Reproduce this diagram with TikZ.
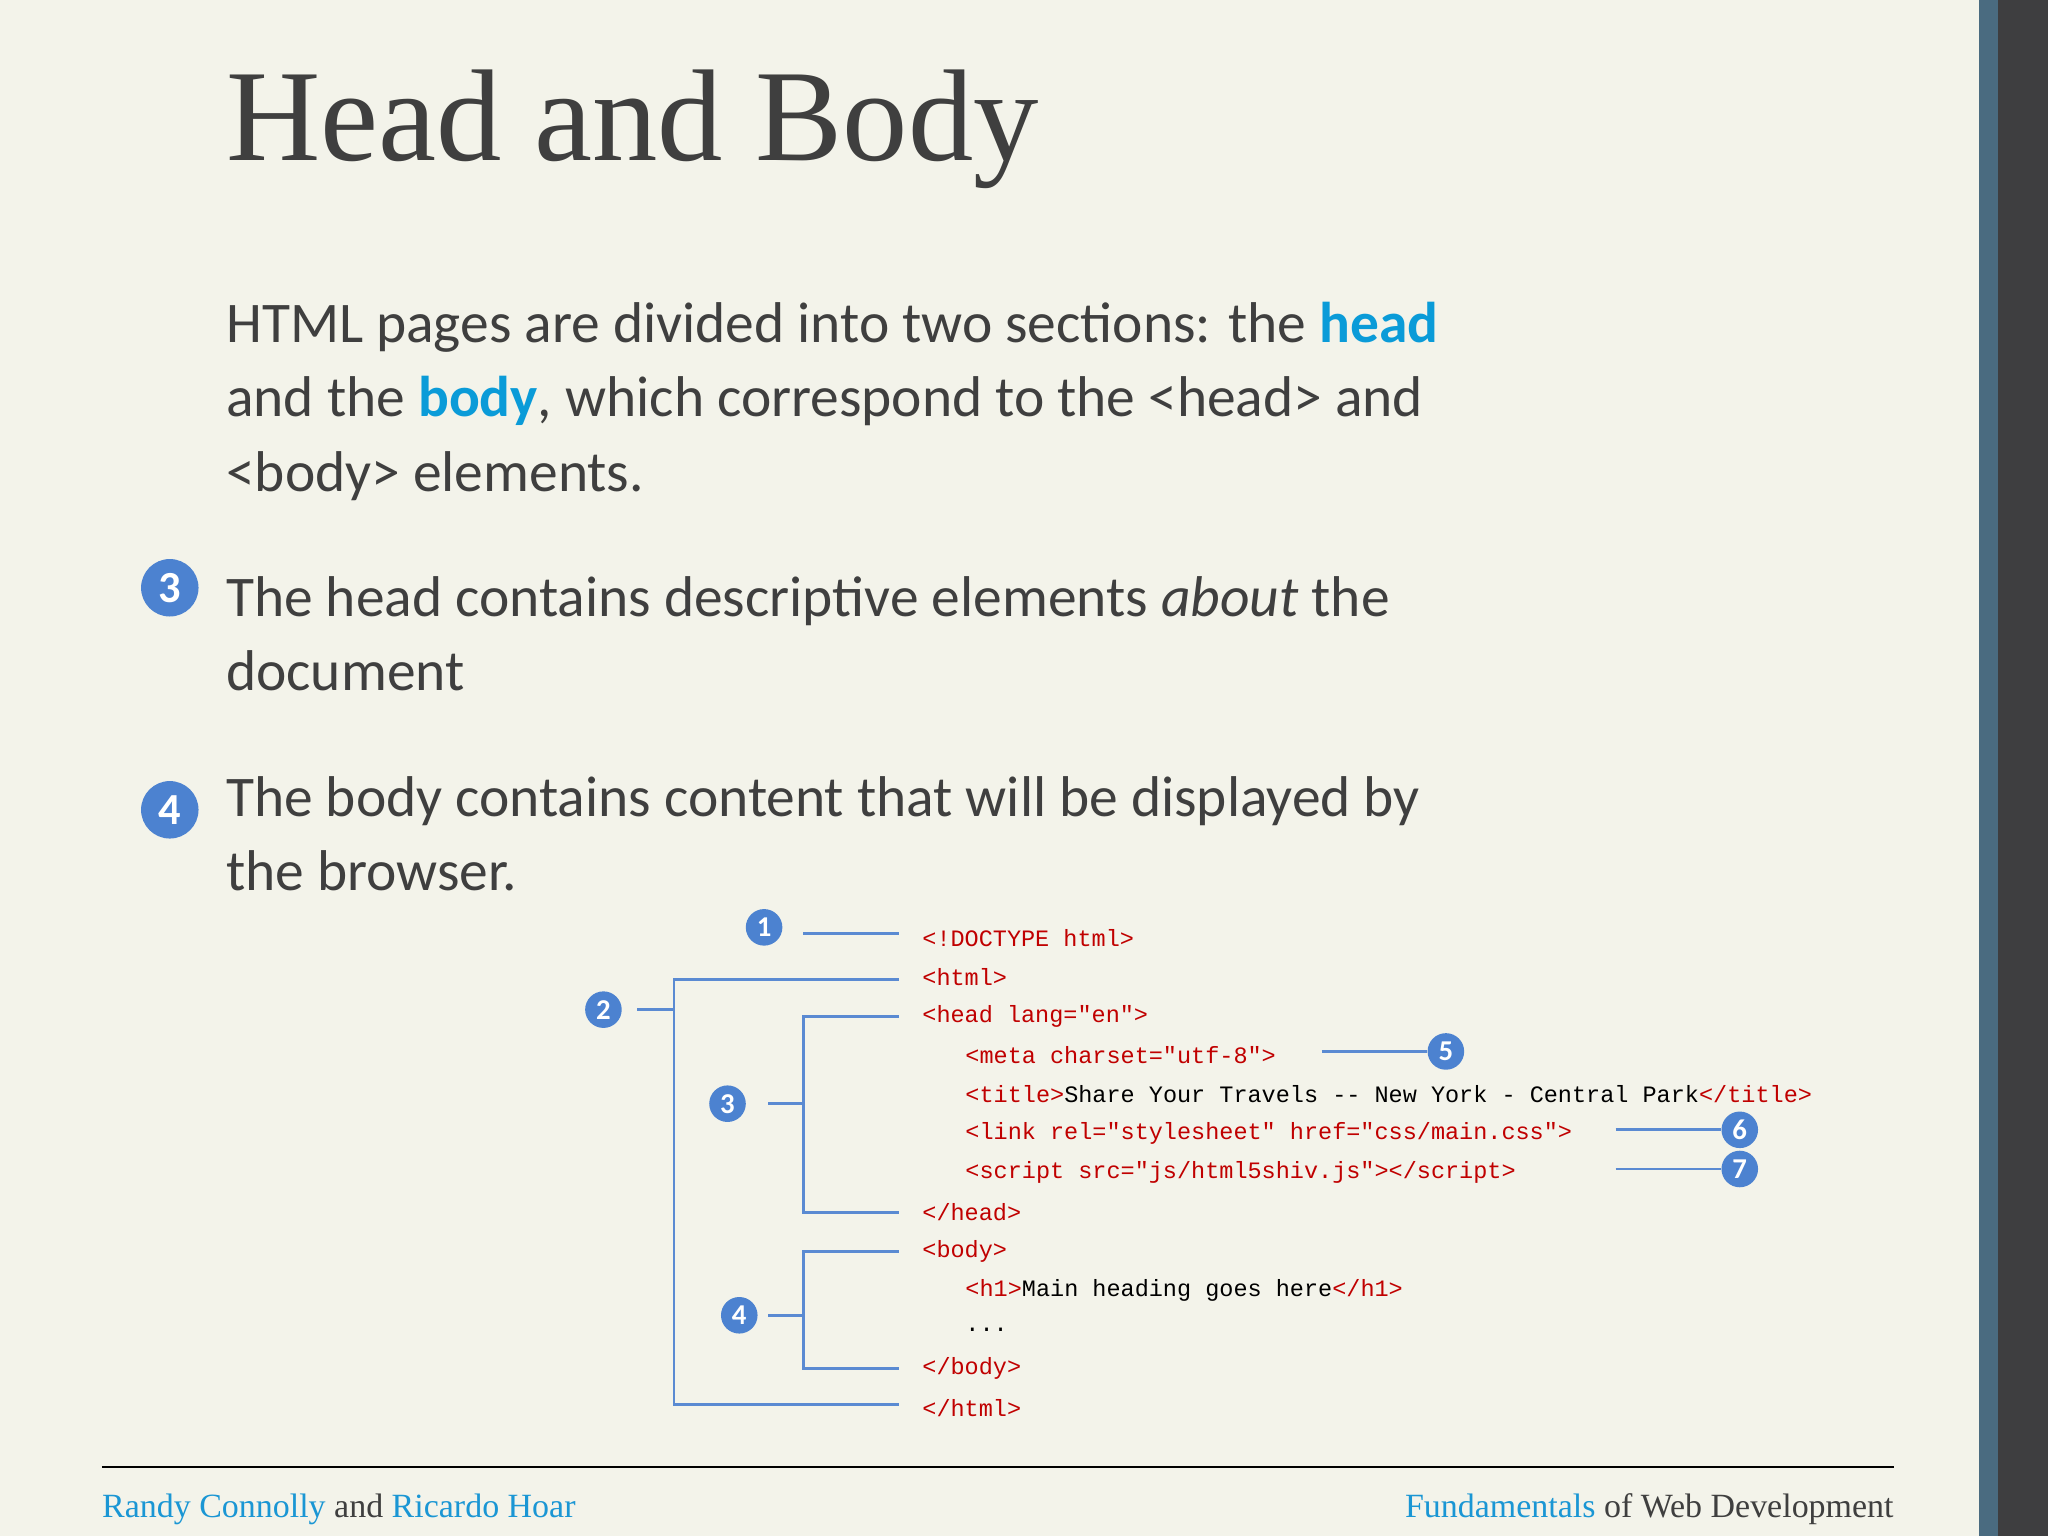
\documentclass[tikz,border=0pt]{standalone}
\usepackage{fontspec}
\setmainfont{Liberation Serif}
\newfontfamily\bodyf{Carlito}
\newfontfamily\codef{Liberation Mono}
\usetikzlibrary{positioning}
\definecolor{bg}{HTML}{F3F3EA}
\definecolor{mk}{HTML}{4C82D0}
\definecolor{ln}{HTML}{5A8AD2}
\definecolor{cr}{HTML}{C00000}
\definecolor{tx}{HTML}{3F3F3F}
\definecolor{ft}{HTML}{1A96D4}
\definecolor{hb}{HTML}{0A9BD8}
\definecolor{barA}{HTML}{4A6B80}
\definecolor{barB}{HTML}{3E3E40}
\begin{document}
\begin{tikzpicture}[x=1pt,y=-1pt,
  bigmk/.style={circle,fill=mk,text=white,inner sep=0pt,minimum size=44pt,font=\bodyf\bfseries\fontsize{34}{34}\selectfont},
  smk/.style={circle,fill=mk,text=white,inner sep=0pt,minimum size=28pt,font=\bodyf\bfseries\fontsize{22}{22}\selectfont},
  body/.style={anchor=base west,inner sep=0pt,text=tx,font=\bodyf\fontsize{44}{44}\selectfont},
  code/.style={anchor=west,inner sep=0pt,font=\codef\fontsize{18}{18}\selectfont,text=cr},
  br/.style={ln,line width=2.2pt}]
\useasboundingbox (0,0) rectangle (1568,1176);
\fill[bg] (0,0) rectangle (1515,1176);
\fill[barA] (1515,0) rectangle (1530,1176);
\fill[barB] (1530,0) rectangle (1568,1176);
\node[anchor=base west,inner sep=0pt,text=tx,font=\fontsize{100}{100}\selectfont] (title) at (173,123) {Head and Body};
\node[body] (p1) at (173,262) {HTML pages are divided into two sections: the \textcolor{hb}{\bfseries head}};
\node[body] (p2) at (173,319) {and the \textcolor{hb}{\bfseries body}, which correspond to the <head> and};
\node[body] (p3) at (173,376) {<body> elements.};
\node[bigmk] (b3) at (130,450) {3};
\node[body] (q1) at (173,472) {The head contains descriptive elements \textit{about} the};
\node[body] (q2) at (173,529) {document};
\node[bigmk] (b4) at (130,620) {4};
\node[body] (r1) at (173,625) {The body contains content that will be displayed by};
\node[body] (r2) at (173,682) {the browser.};
% code
\node[code] (c1) at (706,718) {<!DOCTYPE html>};
\node[code] (c2) at (706,748) {<html>};
\node[code] (c3) at (706,778) {<head lang="en">};
\node[code] (c4) at (739,808) {<meta charset="utf-8">};
\node[code] (c5) at (739,838) {<title>\textcolor{black}{Share Your Travels -- New York - Central Park}</title>};
\node[code] (c6) at (739,868) {<link rel="stylesheet" href="css/main.css">};
\node[code] (c7) at (739,898) {<script src="js/html5shiv.js"></script>};
\node[code] (c8) at (706,928) {</head>};
\node[code] (c9) at (706,958) {<body>};
\node[code] (c10) at (739,988) {<h1>\textcolor{black}{Main heading goes here}</h1>};
\node[code,text=black] (c11) at (739,1018) {...};
\node[code] (c12) at (706,1048) {</body>};
\node[code] (c13) at (706,1078) {</html>};
% markers
\node[smk] (m1) at (585,710) {1};
\node[smk] (m2) at (462,773) {2};
\node[smk] (m3) at (557,845) {3};
\node[smk] (m4) at (566,1007) {4};
\node[smk] (m5) at (1107,805) {5};
\node[smk] (m6) at (1332,865) {6};
\node[smk] (m7) at (1332,895) {7};
\coordinate (e1) at (688,715);
\draw[br] (615,715) -- (e1);
\draw[br] (488,773) -- (516,773);
\draw[br] (688,750) -- (516,750) -- (516,1075) -- (688,1075);
\draw[br] (588,845) -- (615,845);
\draw[br] (688,778) -- (615,778) -- (615,928) -- (688,928);
\draw[br] (588,1007) -- (615,1007);
\draw[br] (688,958) -- (615,958) -- (615,1048) -- (688,1048);
\draw[br] (1012,805) -- (m5.west);
\draw[br] (1237,865) -- (m6.west);
\draw[br] (1237,895) -- (m7.west);
% footer
\draw[black,line width=1.2pt] (78,1123) -- (1450,1123);
\node[anchor=base west,inner sep=0pt,font=\fontsize{26}{26}\selectfont] (fl) at (78,1162) {\textcolor{ft}{Randy Connolly} \textcolor{tx}{and} \textcolor{ft}{Ricardo Hoar}};
\node[anchor=base east,inner sep=0pt,font=\fontsize{26}{26}\selectfont] (fr) at (1450,1162) {\textcolor{ft}{Fundamentals} \textcolor{tx}{of Web Development}};
\end{tikzpicture}
\end{document}
